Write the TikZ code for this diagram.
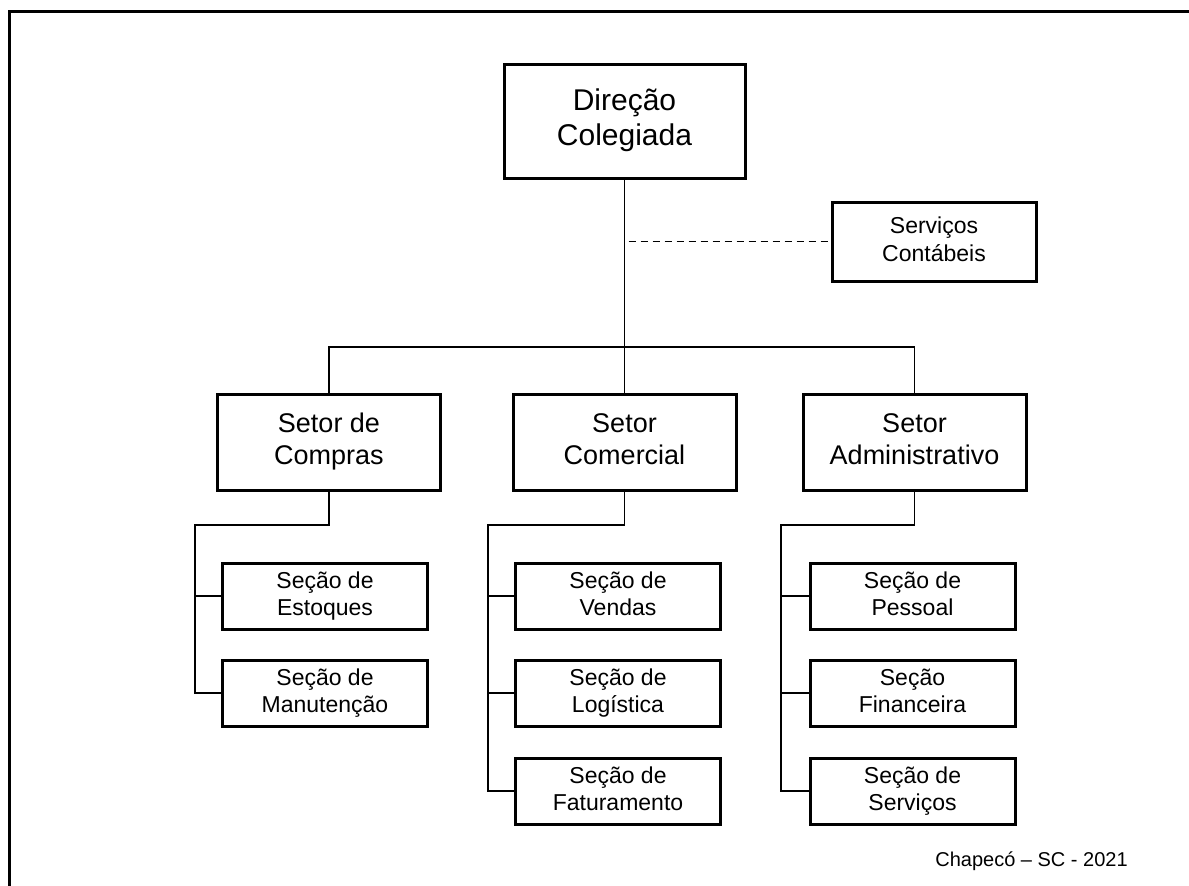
\documentclass[tikz,border=0pt]{standalone}
\usepackage{fontspec}
\setmainfont{Liberation Sans}
\usepackage{tikz}
\usetikzlibrary{calc,positioning}
\tikzset{
  box/.style={draw, line width=3pt, fill=white, align=center, inner sep=0pt},
  box_d/.style={box, minimum width=241pt, minimum height=114pt, text depth=7pt, font=\fontsize{30}{35}\selectfont},
  box_s/.style={box, minimum width=223pt, minimum height=96pt, text depth=6pt, font=\fontsize{27}{32}\selectfont},
  box_c/.style={box, minimum width=205pt, minimum height=66pt, text depth=5pt, font=\fontsize{23}{27.5}\selectfont},
  box_t/.style={box_c, minimum width=204pt, minimum height=79pt},
  lig/.style={draw, line width=1.5pt},
  lig_p/.style={lig, line width=1.3pt, dash pattern=on 7pt off 5pt},
  moldura/.style={draw, line width=3.5pt}
}
\begin{document}
\begin{tikzpicture}[x=1pt,y=-1pt]
	\useasboundingbox (0,0) rectangle (1189,886);
	\draw[moldura] (9.5,886) -- (9.5,11.5) -- (1189,11.5);
	\node[box_d] (dir) at (624.5,121) {Direção\\Colegiada};
	\node[box_t] (cont) at (934,241.5) {Serviços\\Contábeis};
	\node[box_s] (compras) at (329,442) {Setor de\\Compras};
	\node[box_s] (comercial) at (624.5,442) {Setor\\Comercial};
	\node[box_s] (admin) at (914.5,442) {Setor\\Administrativo};
	\node[box_c] (estoq) at (325,596) {Seção de\\Estoques};
	\node[box_c] (manut) at (325,693) {Seção de\\Manutenção};
	\node[box_c] (vendas) at (618,596) {Seção de\\Vendas};
	\node[box_c] (logist) at (618,693) {Seção de\\Logística};
	\node[box_c] (fatur) at (618,791) {Seção de\\Faturamento};
	\node[box_c] (pessoal) at (912.5,596) {Seção de\\Pessoal};
	\node[box_c] (financ) at (912.5,693) {Seção\\Financeira};
	\node[box_c] (servic) at (912.5,791) {Seção de\\Serviços};
	\node[font=\fontsize{20}{24}\selectfont, anchor=base] (local) at (1031.5,866) {Chapecó – SC - 2021};
	\coordinate (bus) at (624.5,347);
	\coordinate (e1) at (195,525);
	\coordinate (e2) at (488,525);
	\coordinate (e3) at (781,525);
	\draw[lig] (dir.south) -- (comercial.north);
	\draw[lig] (compras.north) |- (bus) -| (admin.north);
	\draw[lig_p] ([xshift=4pt]dir.south |- cont.west) -- (cont.west);
	\draw[lig] (compras.south) |- (e1) -- (e1 |- manut.west) -- (manut.west);
	\draw[lig] (e1 |- estoq.west) -- (estoq.west);
	\draw[lig] (comercial.south) |- (e2) -- (e2 |- fatur.west) -- (fatur.west);
	\draw[lig] (e2 |- vendas.west) -- (vendas.west);
	\draw[lig] (e2 |- logist.west) -- (logist.west);
	\draw[lig] (admin.south) |- (e3) -- (e3 |- servic.west) -- (servic.west);
	\draw[lig] (e3 |- pessoal.west) -- (pessoal.west);
	\draw[lig] (e3 |- financ.west) -- (financ.west);
\end{tikzpicture}
\end{document}
